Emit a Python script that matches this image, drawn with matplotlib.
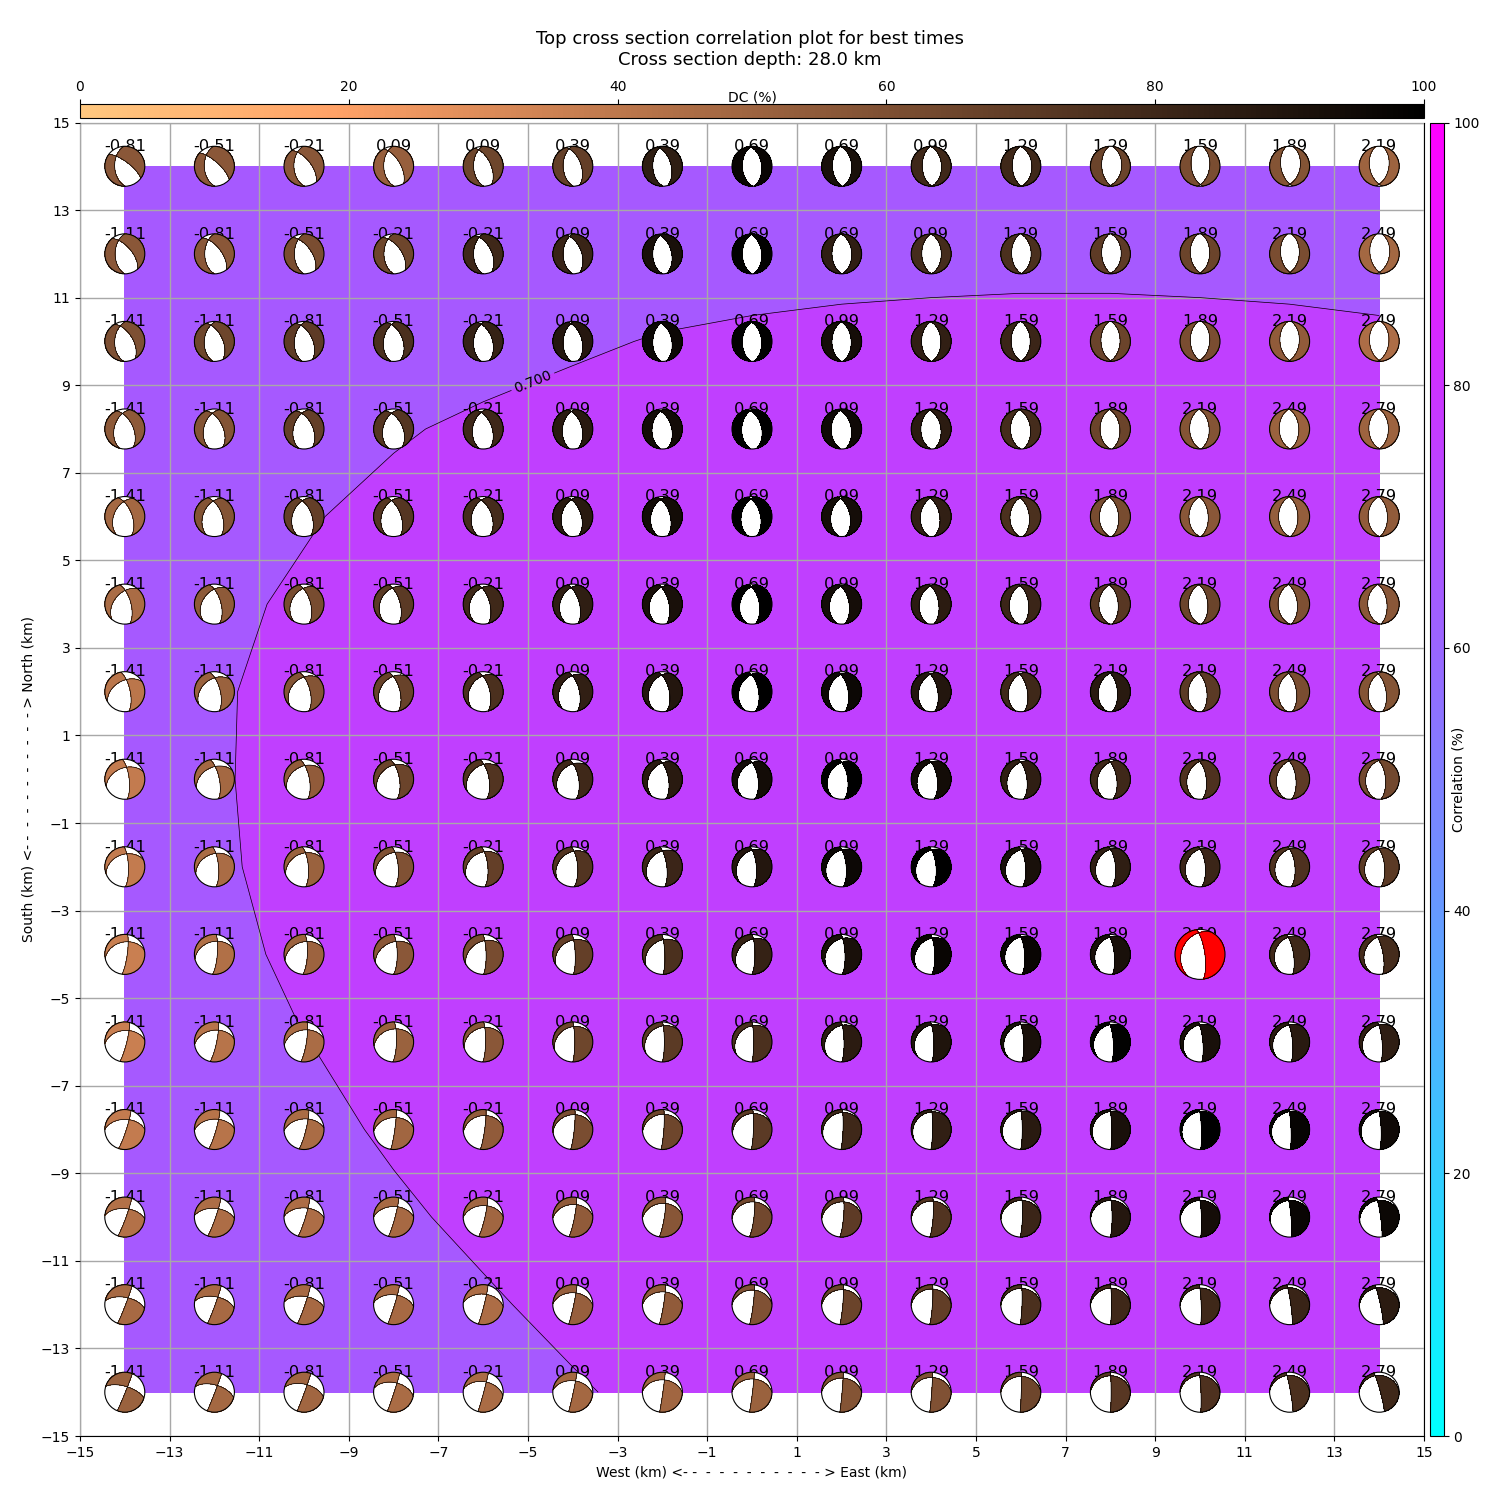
import numpy as np
import matplotlib
matplotlib.use('Agg')
import matplotlib.pyplot as plt
from matplotlib.patches import Ellipse
from matplotlib.cm import ScalarMappable
from matplotlib.colors import Normalize

xs = [-14, -12, -10, -8, -6, -4, -2, 0, 2, 4, 6, 8, 10, 12, 14]
ys = [14, 12, 10, 8, 6, 4, 2, 0, -2, -4, -6, -8, -10, -12, -14]

best_x = 10
best_y = -4

# correlation at every grid node
corr = [
    [.64, .64, .64, .64, .64, .64, .64, .64, .64, .64, .64, .64, .64, .64, .64],
    [.65, .65, .65, .65, .65, .65, .65, .65, .65, .65, .65, .65, .65, .65, .65],
    [.62, .63, .64, .66, .68, .687, .706, .721, .737, .75, .761, .761, .75, .737, .721],
    [.63, .65, .67, .695, .709, .734, .75, .77, .77, .77, .77, .77, .77, .77, .77],
    [.64, .66, .696, .713, .74, .77, .77, .77, .77, .77, .77, .77, .77, .77, .77],
    [.65, .69, .707, .73, .77, .77, .77, .77, .77, .77, .77, .77, .77, .77, .77],
    [.66, .693, .72, .74, .77, .77, .77, .77, .77, .77, .77, .77, .77, .77, .77],
    [.67, .694, .72, .74, .77, .77, .77, .77, .77, .77, .77, .77, .77, .77, .77],
    [.66, .691, .72, .74, .77, .77, .77, .77, .77, .77, .77, .77, .77, .77, .77],
    [.65, .673, .72, .74, .77, .77, .77, .77, .77, .77, .77, .77, .77, .77, .77],
    [.64, .66, .6985, .72, .74, .77, .77, .77, .77, .77, .77, .77, .77, .77, .77],
    [.63, .65, .6585, .72, .74, .77, .77, .77, .77, .77, .77, .77, .77, .77, .77],
    [.63, .64, .65, .6765, .732, .75, .77, .77, .77, .77, .77, .77, .77, .77, .77],
    [.62, .63, .64, .66, .682, .737, .75, .77, .77, .77, .77, .77, .77, .77, .77],
    [.61, .62, .63, .65, .67, .685, .738, .75, .77, .77, .77, .77, .77, .77, .77],
]

# time shift written over every ball
times = [
    [-0.81, -0.51, -0.21, 0.09, 0.09, 0.39, 0.39, 0.69, 0.69, 0.99, 1.29, 1.29, 1.59, 1.89, 2.19],
    [-1.11, -0.81, -0.51, -0.21, -0.21, 0.09, 0.39, 0.69, 0.69, 0.99, 1.29, 1.59, 1.89, 2.19, 2.49],
    [-1.41, -1.11, -0.81, -0.51, -0.21, 0.09, 0.39, 0.69, 0.99, 1.29, 1.59, 1.59, 1.89, 2.19, 2.49],
    [-1.41, -1.11, -0.81, -0.51, -0.21, 0.09, 0.39, 0.69, 0.99, 1.29, 1.59, 1.89, 2.19, 2.49, 2.79],
    [-1.41, -1.11, -0.81, -0.51, -0.21, 0.09, 0.39, 0.69, 0.99, 1.29, 1.59, 1.89, 2.19, 2.49, 2.79],
    [-1.41, -1.11, -0.81, -0.51, -0.21, 0.09, 0.39, 0.69, 0.99, 1.29, 1.59, 1.89, 2.19, 2.49, 2.79],
    [-1.41, -1.11, -0.81, -0.51, -0.21, 0.09, 0.39, 0.69, 0.99, 1.29, 1.59, 2.19, 2.19, 2.49, 2.79],
    [-1.41, -1.11, -0.81, -0.51, -0.21, 0.09, 0.39, 0.69, 0.99, 1.29, 1.59, 1.89, 2.19, 2.49, 2.79],
    [-1.41, -1.11, -0.81, -0.51, -0.21, 0.09, 0.39, 0.69, 0.99, 1.29, 1.59, 1.89, 2.19, 2.49, 2.79],
    [-1.41, -1.11, -0.81, -0.51, -0.21, 0.09, 0.39, 0.69, 0.99, 1.29, 1.59, 1.89, 2.19, 2.49, 2.79],
    [-1.41, -1.11, -0.81, -0.51, -0.21, 0.09, 0.39, 0.69, 0.99, 1.29, 1.59, 1.89, 2.19, 2.49, 2.79],
    [-1.41, -1.11, -0.81, -0.51, -0.21, 0.09, 0.39, 0.69, 0.99, 1.29, 1.59, 1.89, 2.19, 2.49, 2.79],
    [-1.41, -1.11, -0.81, -0.51, -0.21, 0.09, 0.39, 0.69, 0.99, 1.29, 1.59, 1.89, 2.19, 2.49, 2.79],
    [-1.41, -1.11, -0.81, -0.51, -0.21, 0.09, 0.39, 0.69, 0.99, 1.29, 1.59, 1.89, 2.19, 2.49, 2.79],
    [-1.41, -1.11, -0.81, -0.51, -0.21, 0.09, 0.39, 0.69, 0.99, 1.29, 1.59, 1.89, 2.19, 2.49, 2.79],
]

# double couple percentage, gives the ball colour
dc = [
    [56, 56, 56, 52, 65, 68, 85, 97, 92, 80, 80, 66, 61, 58, 50],
    [56, 56, 61, 65, 80, 82, 92, 99, 85, 78, 76, 70, 66, 61, 48],
    [60, 65, 70, 76, 83, 88, 96, 99, 93, 84, 81, 66, 61, 54, 45],
    [55, 58, 68, 73, 80, 87, 94, 100, 95, 86, 78, 66, 58, 51, 50],
    [48, 58, 68, 73, 78, 87, 94, 100, 93, 84, 76, 62, 56, 53, 54],
    [46, 55, 62, 71, 80, 85, 92, 100, 93, 86, 81, 72, 66, 60, 56],
    [41, 51, 58, 67, 76, 84, 89, 100, 96, 89, 80, 87, 71, 61, 58],
    [38, 48, 54, 66, 74, 80, 87, 94, 100, 94, 85, 80, 75, 70, 64],
    [38, 46, 51, 59, 68, 74, 81, 89, 96, 100, 92, 85, 81, 75, 71],
    [36, 44, 50, 56, 62, 68, 76, 83, 92, 97, 97, 92, 84, 80, 78],
    [36, 42, 46, 51, 56, 65, 71, 76, 86, 90, 92, 99, 92, 87, 85],
    [38, 42, 46, 49, 54, 61, 65, 71, 80, 84, 87, 92, 100, 98, 95],
    [43, 45, 45, 47, 49, 54, 57, 64, 70, 74, 81, 88, 93, 97, 96],
    [47, 47, 47, 47, 45, 52, 54, 59, 66, 69, 76, 80, 80, 82, 86],
    [51, 48, 49, 46, 46, 48, 49, 51, 58, 59, 65, 72, 75, 76, 80],
]

# nodal plane on the west/north side of each ball
strike_a = [
    [178, 178, 178, 178, 178, 178, 178, 178, 178, 178, 178, 176, 172, 170, 170],
    [180, 180, 180, 180, 180, 180, 180, 180, 179, 179, 178, 177, 175, 173, 172],
    [183, 184, 185, 188, 185, 184, 183, 182, 181, 180, 178, 177, 176, 175, 175],
    [195, 195, 195, 195, 190, 188, 185, 183, 182, 181, 180, 180, 179, 178, 178],
    [205, 203, 200, 200, 195, 193, 193, 190, 188, 186, 184, 182, 181, 180, 180],
    [220, 215, 210, 208, 205, 200, 200, 195, 192, 189, 186, 182, 180, 179, 178],
    [240, 232, 225, 218, 215, 210, 205, 200, 198, 196, 194, 190, 188, 187, 188],
    [248, 244, 240, 235, 232, 225, 212, 210, 207, 205, 203, 200, 196, 192, 190],
    [250, 248, 246, 243, 238, 230, 222, 215, 213, 212, 210, 205, 203, 201, 200],
    [258, 256, 252, 245, 240, 238, 235, 228, 226, 226, 210, 208, 207, 205, 205],
    [265, 262, 260, 258, 252, 245, 235, 230, 225, 222, 218, 218, 220, 220, 220],
    [270, 268, 266, 265, 262, 262, 262, 255, 245, 235, 225, 225, 225, 225, 225],
    [275, 274, 272, 270, 269, 267, 266, 265, 264, 264, 263, 262, 261, 258, 255],
    [281, 280, 278, 276, 275, 272, 270, 269, 268, 268, 267, 267, 266, 266, 265],
    [287, 286, 284, 282, 280, 276, 272, 271, 270, 270, 270, 270, 271, 272, 272],
]
dip_a = [
    [48, 48, 48, 49, 50, 50, 50, 50, 52, 53, 55, 54, 54, 54, 50],
    [50, 50, 50, 50, 50, 50, 50, 50, 50, 51, 52, 54, 50, 53, 52],
    [48, 48, 50, 48, 50, 50, 50, 50, 50, 50, 50, 51, 50, 50, 50],
    [46, 46, 46, 46, 46, 47, 47, 47, 47, 47, 47, 47, 47, 47, 47],
    [45, 43, 42, 40, 42, 43, 42, 45, 45, 45, 45, 44, 44, 44, 44],
    [45, 40, 37, 34, 35, 37, 37, 40, 40, 40, 42, 42, 42, 42, 42],
    [45, 38, 36, 35, 34, 35, 35, 36, 37, 38, 39, 40, 41, 43, 45],
    [43, 40, 37, 35, 33, 32, 33, 33, 34, 34, 35, 37, 36, 35, 33],
    [38, 36, 34, 32, 30, 30, 30, 29, 28, 29, 29, 30, 30, 30, 30],
    [38, 36, 38, 40, 37, 33, 33, 32, 29, 28, 25, 27, 27, 28, 28],
    [42, 41, 40, 36, 30, 27, 25, 26, 25, 24, 21, 22, 23, 23, 24],
    [48, 47, 46, 40, 31, 27, 25, 22, 18, 16, 13, 15, 16, 16, 16],
    [55, 54, 52, 46, 42, 37, 32, 25, 25, 21, 18, 18, 18, 18, 18],
    [60, 57, 56, 49, 46, 40, 36, 28, 26, 23, 20, 19, 18, 17, 17],
    [66, 60, 57, 50, 46, 42, 38, 34, 30, 27, 22, 19, 18, 17, 17],
]

# nodal plane on the east/south side of each ball
strike_b = [
    [307, 312, 322, 330, 335, 340, 345, 354, 356, 358, 358, 5, 7, 10, 10],
    [320, 323, 325, 325, 335, 340, 347, 355, 358, 359, 0, 2, 3, 5, 8],
    [329, 335, 335, 340, 342, 345, 349, 355, 357, 358, 0, 2, 5, 5, 5],
    [335, 335, 335, 335, 340, 345, 345, 347, 349, 351, 353, 355, 357, 358, 0],
    [340, 340, 340, 340, 340, 343, 345, 347, 349, 351, 353, 355, 357, 358, 358],
    [345, 345, 345, 345, 345, 345, 348, 350, 351, 352, 353, 355, 355, 355, 355],
    [348, 346, 346, 346, 346, 347, 348, 350, 350, 350, 350, 355, 353, 352, 350],
    [353, 348, 349, 350, 350, 350, 350, 352, 352, 352, 352, 352, 353, 354, 355],
    [358, 355, 355, 355, 355, 356, 353, 355, 355, 355, 355, 355, 355, 355, 355],
    [8, 5, 3, 0, 359, 358, 358, 0, 358, 358, 356, 354, 352, 351, 350],
    [14, 12, 9, 2, 1, 0, 0, 0, 359, 358, 357, 356, 355, 355, 355],
    [18, 16, 14, 8, 8, 6, 4, 2, 2, 1, 0, 359, 358, 358, 358],
    [20, 19, 17, 15, 13, 11, 9, 7, 5, 4, 2, 0, 358, 355, 352],
    [21, 20, 19, 17, 14, 12, 9, 7, 5, 4, 2, 0, 358, 352, 348],
    [22, 21, 20, 18, 15, 12, 8, 7, 5, 4, 2, 0, 358, 350, 345],
]
dip_b = [
    [72, 72, 62, 62, 59, 56, 54, 50, 48, 47, 44, 43, 50, 46, 50],
    [62, 62, 60, 58, 55, 54, 52, 50, 48, 48, 47, 45, 50, 50, 47],
    [57, 56, 55, 52, 52, 52, 51, 50, 50, 50, 51, 50, 50, 50, 50],
    [56, 55, 54, 53, 54, 52, 52, 50, 50, 50, 50, 51, 52, 52, 52],
    [60, 58, 58, 60, 55, 55, 58, 55, 55, 55, 55, 56, 56, 56, 56],
    [65, 63, 63, 63, 63, 63, 63, 60, 59, 59, 58, 58, 58, 58, 58],
    [68, 66, 65, 64, 63, 63, 62, 63, 63, 63, 63, 61, 62, 62, 62],
    [72, 70, 68, 66, 66, 66, 65, 65, 65, 65, 65, 64, 64, 64, 64],
    [75, 73, 72, 71, 71, 70, 72, 72, 71, 70, 70, 69, 68, 68, 68],
    [80, 78, 76, 75, 78, 80, 80, 78, 76, 75, 74, 74, 74, 74, 74],
    [82, 81, 80, 78, 80, 82, 82, 83, 80, 79, 78, 78, 78, 78, 78],
    [84, 83, 82, 85, 84, 84, 84, 84, 84, 84, 84, 84, 84, 84, 82],
    [85, 85, 84, 84, 83, 83, 82, 82, 82, 82, 83, 83, 84, 84, 84],
    [87, 87, 86, 86, 86, 86, 85, 85, 85, 85, 85, 85, 85, 85, 85],
    [88, 88, 88, 88, 88, 88, 88, 88, 88, 88, 88, 87, 86, 86, 85],
]

fig = plt.figure(figsize=(15, 15), dpi=100)
ax = fig.add_axes([80 / 1500, 64 / 1500, 1344 / 1500, 1313.5 / 1500])

cool = plt.get_cmap('cool')
copper = plt.get_cmap('copper_r')
corr_norm = Normalize(0, 1)
dc_norm = Normalize(0, 100)

levels = [0.6, 0.7, 0.8]
ax.contourf(xs, ys, corr, levels=levels, cmap=cool, norm=corr_norm, zorder=1)
cs = ax.contour(xs, ys, corr, levels=[0.7], colors='k', linewidths=0.5, zorder=3)
ax.clabel(cs, fmt='%.3f', fontsize=10, manual=[(-4.9, 9.1)])

ax.set_xlim(-15, 15)
ax.set_ylim(-15, 15)
ax.set_xticks(np.arange(-15, 16, 2))
ax.set_yticks(np.arange(-15, 16, 2))
ax.grid(True, color='#a8a8a8', linewidth=1, zorder=2)
ax.set_axisbelow(False)
for gl in ax.get_xgridlines() + ax.get_ygridlines():
    gl.set_zorder(2)
ax.set_xlabel('West (km) <- -  -  -  -  -  -  -  -  -  - > East (km)')
ax.set_ylabel('South (km) <- -  -  -  -  -  -  -  -  -  - > North (km)')

# unit disc in polar form, lower hemisphere equal area
rr, tt = np.meshgrid(np.linspace(0, 1, 60), np.linspace(0, 2 * np.pi, 241))
plunge = 2 * np.arcsin(rr / np.sqrt(2))
ve = np.sin(plunge) * np.cos(tt)
vn = np.sin(plunge) * np.sin(tt)
vd = np.cos(plunge)


def plane(strike, dip):
    az = np.radians(strike + 90)
    d = np.radians(dip)
    return np.sin(az) * np.sin(d) * ve + np.cos(az) * np.sin(d) * vn - np.cos(d) * vd


px_x = 1344 / 30
px_y = 1313.5 / 30

for i, y in enumerate(ys):
    for j, x in enumerate(xs):
        best = x == best_x and y == best_y
        size = 50 if best else 40
        w = size / px_x
        h = size / px_y
        color = 'red' if best else copper(dc_norm(dc[i][j]))

        ax.text(x, y + 0.45, f'{times[i][j]:.2f}', ha='center', va='center',
                fontsize=11.7, zorder=4)

        ga = plane(strike_a[i][j], dip_a[i][j])
        gb = plane(strike_b[i][j], dip_b[i][j])
        bx = x + rr * np.cos(tt) * w / 2
        by = y + rr * np.sin(tt) * h / 2

        ax.add_patch(Ellipse((x, y), w, h, fc='white', ec='none', zorder=5))
        ax.contourf(bx, by, ga * gb, levels=[-10, 0], colors=[color], zorder=6)
        ax.contour(bx, by, ga, levels=[0], colors='k', linewidths=0.5, zorder=7)
        ax.contour(bx, by, gb, levels=[0], colors='k', linewidths=0.5, zorder=7)
        ax.add_patch(Ellipse((x, y), w, h, fc='none', ec='k', lw=0.8, zorder=8))

dc_ax = fig.add_axes([80 / 1500, 1382.5 / 1500, 1344 / 1500, 13.5 / 1500])
dc_bar = fig.colorbar(ScalarMappable(norm=dc_norm, cmap=copper), cax=dc_ax, orientation='horizontal')
dc_bar.set_ticks([0, 20, 40, 60, 80, 100])
dc_ax.xaxis.set_ticks_position('top')
dc_ax.xaxis.set_label_position('top')
dc_ax.set_xlabel('DC (%)')
dc_ax.xaxis.set_label_coords(0.5, 1.17)

corr_ax = fig.add_axes([1429.5 / 1500, 64 / 1500, 14 / 1500, 1313.5 / 1500])
corr_bar = fig.colorbar(ScalarMappable(norm=Normalize(0, 100), cmap=cool), cax=corr_ax)
corr_bar.set_ticks([0, 20, 40, 60, 80, 100])
corr_bar.set_label('Correlation (%)', labelpad=-20.5)

fig.suptitle('Top cross section correlation plot for best times\nCross section depth: 28.0 km',
             x=0.5, y=0.98, fontsize=13)

fig.savefig('out.png', dpi=100)
